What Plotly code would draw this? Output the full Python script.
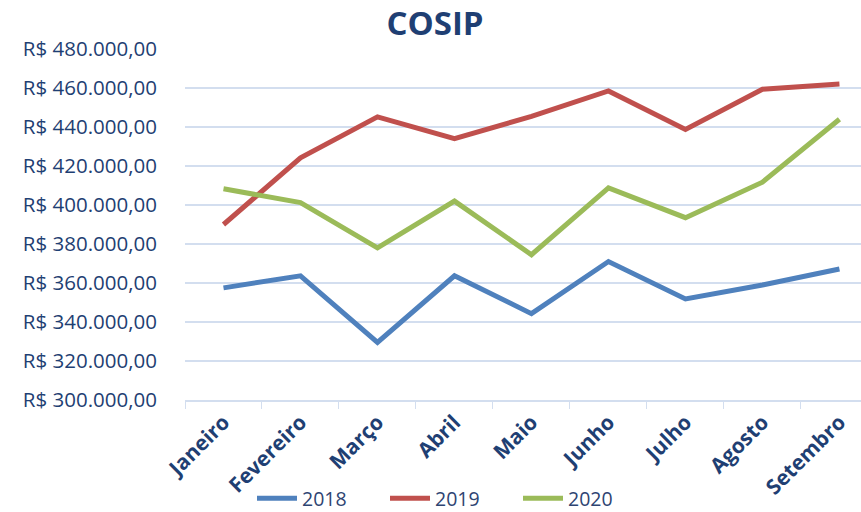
import plotly.graph_objects as go

meses = ["Janeiro", "Fevereiro", "Março", "Abril", "Maio", "Junho", "Julho", "Agosto", "Setembro"]
v2018 = [357500, 363700, 329500, 363700, 344300, 371000, 351800, 359000, 367200]
v2019 = [390000, 424200, 445200, 434000, 445500, 458500, 438700, 459400, 462000]
v2020 = [408300, 401200, 378000, 402000, 374500, 408800, 393500, 411700, 444000]
y_ticks = [300000, 320000, 340000, 360000, 380000, 400000, 420000, 440000, 460000, 480000]
y_labels = ["R$ 300.000,00", "R$ 320.000,00", "R$ 340.000,00", "R$ 360.000,00", "R$ 380.000,00",
            "R$ 400.000,00", "R$ 420.000,00", "R$ 440.000,00", "R$ 460.000,00", "R$ 480.000,00"]

series = [("2018", v2018, "#4F81BD"), ("2019", v2019, "#C0504D"), ("2020", v2020, "#9BBB59")]

navy = "#1F3F73"
grid = "#D3DEEF"
font_family = "Open Sans, DejaVu Sans, sans-serif"

fig = go.Figure()
for name, vals, color in series:
    fig.add_trace(go.Scatter(x=meses, y=vals, name=name, mode="lines",
                             line=dict(color=color, width=5)))

W, H = 861, 512
L, T, B = 185, 49, 112
PW, PH = W - L, H - T - B

fig.update_layout(
    width=W, height=H,
    paper_bgcolor="white", plot_bgcolor="white",
    margin=dict(l=L, r=0, t=T, b=B, autoexpand=False),
    title=dict(text="<b>COSIP</b>", xref="container", x=435/W, xanchor="center",
               yref="container", y=1-23/H, yanchor="middle",
               font=dict(family=font_family, size=33, color=navy)),
    font=dict(family=font_family, color=navy),
    showlegend=True,
    legend=dict(orientation="h", xanchor="left", x=(252-L)/PW, yanchor="bottom",
                y=-(B + 6)/PH, tracegroupgap=0,
                font=dict(size=19.5, color="#2E4472"), bgcolor="rgba(0,0,0,0)",
                entrywidth=78, entrywidthmode="pixels", itemwidth=40),
    xaxis=dict(type="category", range=[-0.5, 8.28], showgrid=False, automargin=False,
               showline=True, linecolor=grid, linewidth=1.5,
               tickson="boundaries", ticks="outside", ticklen=7, tickcolor=grid,
               tickangle=-45, tickfont=dict(size=21, color=navy, family=font_family, weight="bold")),
    yaxis=dict(range=[300000, 480000], tickvals=y_ticks, ticktext=y_labels, automargin=False,
               showgrid=True, gridcolor=grid, gridwidth=1.5, zeroline=False,
               showline=False, ticks="", ticklabelstandoff=27,
               tickfont=dict(size=20.5, color=navy)),
)

fig.write_html("out.html", config={"displayModeBar": False},
               post_script="document.body.style.margin='0';")
